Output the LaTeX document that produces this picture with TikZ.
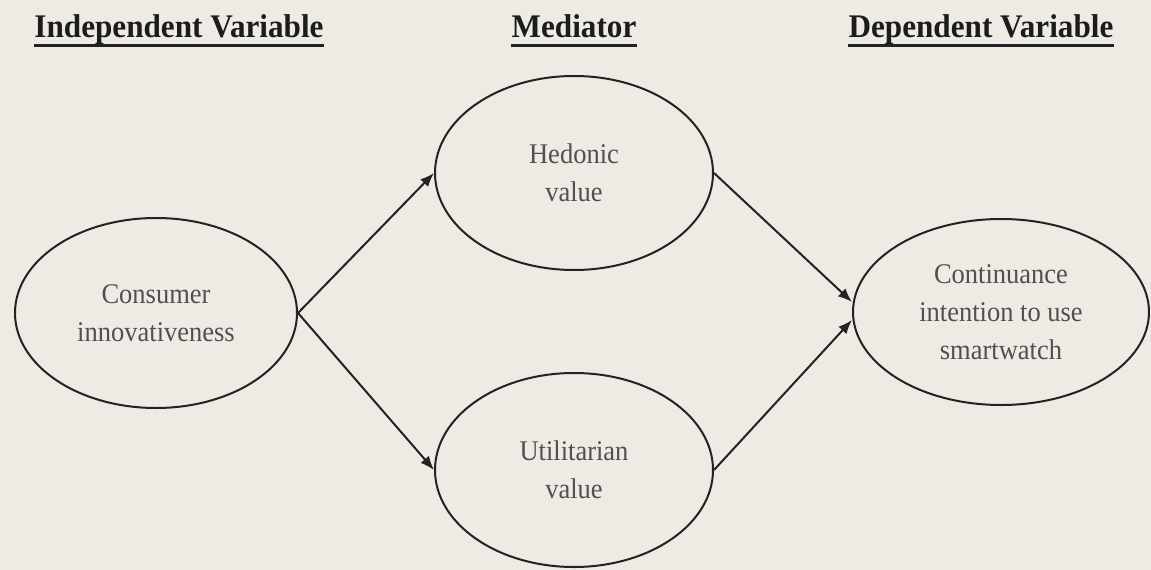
\documentclass[tikz,border=0pt]{standalone}
\usepackage{fontspec}
\setmainfont{Liberation Serif}
\newfontfamily\headfont[FakeStretch=0.945]{Liberation Serif}
\newfontfamily\bodyfont[FakeStretch=0.93]{Liberation Serif}
\usetikzlibrary{shapes.geometric,arrows.meta}
\definecolor{paper}{RGB}{238,235,228}
\definecolor{ink}{RGB}{35,35,35}
\definecolor{label}{RGB}{80,80,80}
\begin{document}
\begin{tikzpicture}[x=1pt,y=-1pt,
  heading/.style={anchor=base,inner sep=0pt,text=ink!80!black,
    font=\headfont\bfseries\fontsize{33}{38}\selectfont},
  construct/.style={ellipse,draw=ink,line width=2pt,inner sep=0pt,
    align=center,text=label,font=\bodyfont\fontsize{28.5}{38}\selectfont},
  path/.style={draw=ink,line width=2pt,-{Latex[length=14pt,width=11pt]}},
  rule/.style={draw=ink,line width=2.4pt}]
  \fill[paper] (0,0) rectangle (1151,570);
  \useasboundingbox (0,0) rectangle (1151,570);

  % column headings
  \node[heading] (iv)  at (179,37) {Independent Variable};
  \node[heading] (med) at (574,37) {Mediator};
  \node[heading] (dv)  at (981,37) {Dependent Variable};
  \foreach \h in {iv,med,dv}
    \draw[rule] ([yshift=-8.5pt]\h.base west) -- ([yshift=-8.5pt]\h.base east);

  % constructs
  \node[construct,minimum width=282pt,minimum height=190pt] (ci) at (156,313)
    {Consumer\\innovativeness};
  \node[construct,minimum width=278pt,minimum height=194pt] (hv) at (574,173)
    {Hedonic\\value};
  \node[construct,minimum width=278pt,minimum height=194pt] (uv) at (574,470)
    {Utilitarian\\value};
  \node[construct,minimum width=296pt,minimum height=186pt] (ci2) at (1001,312)
    {Continuance\\intention to use\\smartwatch};

  % hypothesised paths
  \draw[path] (ci.east) -- (hv.west);
  \draw[path] (ci.east) -- (uv.west);
  \draw[path] (hv.east) -- ([yshift=10pt]ci2.west);
  \draw[path] (uv.east) -- ([yshift=-8pt]ci2.west);
\end{tikzpicture}
\end{document}
